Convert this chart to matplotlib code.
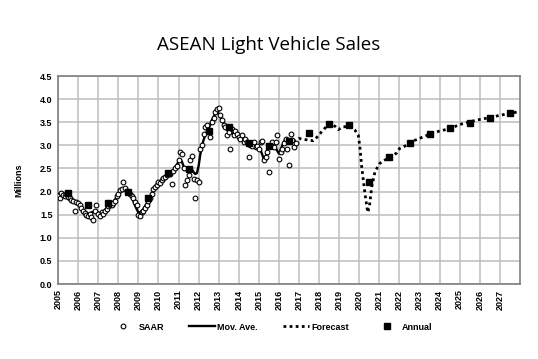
import numpy as np
import matplotlib
matplotlib.use('Agg')
import matplotlib.pyplot as plt
from matplotlib.lines import Line2D

# monthly SAAR, Jan 2005 .. Nov 2016 (millions)
saar_2005 = [1.91, 1.85, 1.97, 1.93, 1.90, 1.95, 1.88, 1.85, 1.82, 1.80, 1.58, 1.78]
saar_2006 = [1.75, 1.70, 1.65, 1.58, 1.53, 1.50, 1.48, 1.52, 1.45, 1.38, 1.58, 1.72]
saar_2007 = [1.52, 1.48, 1.55, 1.52, 1.58, 1.62, 1.68, 1.72, 1.70, 1.75, 1.80, 1.90]
saar_2008 = [1.95, 2.03, 2.05, 2.20, 2.08, 2.02, 1.98, 1.95, 1.90, 1.85, 1.78, 1.70]
saar_2009 = [1.50, 1.48, 1.55, 1.58, 1.65, 1.70, 1.80, 1.85, 1.95, 2.05, 2.10, 2.15]
saar_2010 = [2.20, 2.18, 2.25, 2.30, 2.32, 2.35, 2.40, 2.38, 2.17, 2.45, 2.50, 2.55]
saar_2011 = [2.68, 2.86, 2.82, 2.50, 2.15, 2.24, 2.35, 2.68, 2.78, 2.28, 1.85, 2.25]
saar_2012 = [2.21, 2.93, 3.00, 3.25, 3.40, 3.43, 3.32, 3.18, 3.50, 3.60, 3.72, 3.79]
saar_2013 = [3.80, 3.65, 3.54, 3.43, 3.40, 3.22, 3.29, 2.93, 3.36, 3.22, 3.30, 3.25]
saar_2014 = [3.18, 3.14, 3.22, 3.07, 3.14, 3.07, 2.75, 3.00, 2.99, 3.07, 2.97, 2.99]
saar_2015 = [2.93, 3.07, 3.09, 2.68, 2.75, 2.86, 2.43, 3.00, 3.07, 2.97, 3.07, 3.22]
saar_2016 = [2.71, 2.86, 2.93, 3.04, 3.14, 2.93, 2.57, 3.25, 3.11, 2.97, 3.04]

# moving average, Jan 2005 .. Sep 2016
mov_ave = [
    1.95, 1.94, 1.95, 1.95, 1.93, 1.92, 1.90, 1.87, 1.84, 1.82, 1.80, 1.78,
    1.75, 1.70, 1.65, 1.60, 1.56, 1.53, 1.52, 1.52, 1.55, 1.56, 1.55, 1.56,
    1.55, 1.52, 1.53, 1.56, 1.60, 1.64, 1.68, 1.72, 1.74, 1.78, 1.82, 1.88,
    1.92, 1.98, 2.02, 2.04, 2.05, 2.04, 2.00, 1.95, 1.88, 1.80, 1.70, 1.62,
    1.55, 1.55, 1.58, 1.62, 1.68, 1.74, 1.80, 1.87, 1.95, 2.02, 2.08, 2.13,
    2.17, 2.20, 2.24, 2.28, 2.31, 2.34, 2.37, 2.40, 2.42, 2.46, 2.52, 2.58,
    2.65, 2.70, 2.65, 2.55, 2.48, 2.45, 2.46, 2.50, 2.48, 2.42, 2.38, 2.40,
    2.55, 2.80, 2.98, 3.12, 3.22, 3.30, 3.36, 3.45, 3.55, 3.62, 3.68, 3.72,
    3.68, 3.62, 3.55, 3.48, 3.42, 3.36, 3.32, 3.28, 3.26, 3.25, 3.22, 3.20,
    3.18, 3.16, 3.13, 3.10, 3.07, 3.05, 3.02, 3.00, 2.99, 2.98, 2.97, 2.96,
    2.93, 2.90, 2.80, 2.70, 2.75, 2.88, 3.00, 3.00, 3.00, 3.00, 2.95, 2.88,
    2.82, 2.90, 3.00, 3.08, 3.14, 3.10, 3.05, 3.08, 3.10,
]

# forecast path (decimal year, millions)
fc_date = [2016.72, 2017.0, 2017.2, 2017.55, 2017.7, 2017.88, 2018.12, 2018.37,
           2018.57, 2018.8, 2018.95, 2019.2, 2019.53, 2019.78, 2019.95, 2020.03,
           2020.12, 2020.28, 2020.42, 2020.5, 2020.62, 2020.78, 2021.02, 2021.27,
           2021.55, 2021.85, 2022.0, 2022.35, 2022.6, 2023.0, 2023.5, 2024.0,
           2024.5, 2025.0, 2025.5, 2026.0, 2026.5, 2027.0, 2027.5, 2027.85]
fc_value = [3.08, 3.15, 3.13, 3.11, 3.10, 3.17, 3.29, 3.41,
            3.47, 3.41, 3.34, 3.40, 3.41, 3.33, 3.22, 2.97,
            2.54, 1.96, 1.55, 1.67, 2.10, 2.43, 2.61, 2.68,
            2.75, 2.83, 2.93, 3.00, 3.08, 3.15, 3.24, 3.31,
            3.36, 3.45, 3.51, 3.56, 3.60, 3.65, 3.69, 3.72]

years = list(range(2005, 2028))
annual = [1.97, 1.70, 1.76, 2.00, 1.85, 2.40, 2.48, 3.32, 3.39, 3.06, 2.98, 3.10,
          3.26, 3.47, 3.43, 2.21, 2.75, 3.05, 3.25, 3.38, 3.49, 3.59, 3.70]

saar = (saar_2005 + saar_2006 + saar_2007 + saar_2008 + saar_2009 + saar_2010
        + saar_2011 + saar_2012 + saar_2013 + saar_2014 + saar_2015 + saar_2016)
saar_date = 2005 + np.arange(len(saar)) / 12
ma_date = 2005 + np.arange(len(mov_ave)) / 12
annual_date = np.array(years) + 0.5

fig = plt.figure(figsize=(5.38, 3.59), dpi=100)
ax = fig.add_axes([0.1078, 0.2089, 0.8587, 0.5794])

dots = (0, (1, 1.2))
ax.plot(fc_date, fc_value, color='black', linestyle=dots, linewidth=2.0, zorder=3)
ax.plot(ma_date, mov_ave, color='black', linewidth=1.7, zorder=3)
ax.plot(saar_date, saar, linestyle='none', marker='o', markersize=3.4,
        markerfacecolor='white', markeredgecolor='black', markeredgewidth=0.8, zorder=4)
ax.plot(annual_date, annual, linestyle='none', marker='s', markersize=5,
        color='black', zorder=5)

ax.set_xlim(2005, 2028)
ax.set_ylim(0, 4.5)
ax.set_xticks(years)
ax.set_xticklabels([str(y) for y in years], rotation=90, fontsize=6.5,
                   fontweight='bold', family='Liberation Sans')
ax.set_yticks(np.arange(0, 4.51, 0.5))
ax.set_yticklabels([f'{v:.1f}' for v in np.arange(0, 4.51, 0.5)], fontsize=6.5,
                   fontweight='bold', family='Liberation Sans')
ax.tick_params(length=0, pad=4)
ax.grid(True, color='#bdbdbd', linewidth=1.1)
ax.set_axisbelow(True)
for s in ax.spines.values():
    s.set_color('#7f7f7f')
    s.set_linewidth(1.2)

ax.set_ylabel('Millions', fontsize=6.5, fontweight='bold', family='Liberation Sans', labelpad=12)

fig.text(0.5, 0.875, 'ASEAN Light Vehicle Sales', ha='center', va='center',
         fontsize=13.5, family='Open Sans')

handles = [
    Line2D([], [], linestyle='none', marker='o', markersize=3.4,
           markerfacecolor='white', markeredgecolor='black', markeredgewidth=0.8),
    Line2D([], [], color='black', linewidth=1.7),
    Line2D([], [], color='black', linestyle=dots, linewidth=2.0),
    Line2D([], [], linestyle='none', marker='s', markersize=5, color='black'),
]
fig.legend(handles, ['SAAR', 'Mov. Ave.', 'Forecast', 'Annual'], loc='center',
           bbox_to_anchor=(0.505, 0.089), ncol=4, frameon=False, columnspacing=2.8,
           handlelength=2.8, handletextpad=0.3,
           prop={'family': 'Liberation Sans', 'weight': 'bold', 'size': 6.5})

fig.savefig('out.png', dpi=100)
